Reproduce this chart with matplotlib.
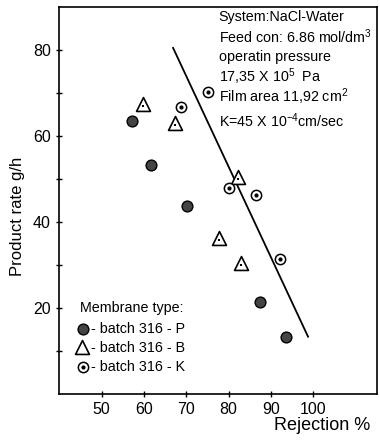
import matplotlib
matplotlib.use("Agg")
import matplotlib.pyplot as plt
import numpy as np

plt.rcParams['font.family'] = ['Liberation Sans', 'DejaVu Sans']
plt.rcParams['mathtext.default'] = 'regular'

# batch 316 - P (filled circles)
p_rej = [57.2, 61.7, 70.2, 87.4, 93.6]
p_rate = [63.5, 53.3, 43.7, 21.4, 13.3]
# batch 316 - B (triangles)
b_rej = [59.8, 67.3, 82.2, 77.8, 83.0]
b_rate = [67.5, 63.1, 50.5, 36.3, 30.5]
# batch 316 - K (dotted circles)
k_rej = [75.1, 68.7, 80.1, 86.5, 92.2]
k_rate = [70.2, 66.7, 47.9, 46.3, 31.4]
# fitted line
line_rej = [66.9, 98.8]
line_rate = [80.5, 13.3]

xticks = [50, 60, 70, 80, 90, 100]
yticks = [10, 20, 30, 40, 50, 60, 70, 80]
ylabels = ['', '20', '', '40', '', '60', '', '80']

fig = plt.figure(figsize=(3.8, 4.42), dpi=100)
ax = fig.add_axes([0.156, 0.109, 0.835, 0.875])

ax.plot(line_rej, line_rate, color='black', lw=1.3, zorder=2)
ax.scatter(p_rej, p_rate, s=60, c='#444444', edgecolors='black', linewidths=1, zorder=3)
ax.scatter(b_rej, b_rate, s=100, marker='^', c='white', edgecolors='black', linewidths=1.2, zorder=3)
ax.scatter(b_rej, [v - 0.6 for v in b_rate], s=3, marker='|', c='black', zorder=4)
ax.scatter(k_rej, k_rate, s=55, c='white', edgecolors='black', linewidths=1.1, zorder=3)
ax.scatter(k_rej, k_rate, s=4, c='black', zorder=4)

ax.set_xlim(40, 115)
ax.set_ylim(0, 90)
ax.set_xticks(xticks)
ax.set_yticks(yticks)
ax.set_yticklabels(ylabels)
ax.tick_params(direction='inout', length=5, width=1, labelsize=11.5)
for s in ax.spines.values():
    s.set_linewidth(1.2)

fig.text(0.047, 0.51, 'Product rate g/h', rotation=90, fontsize=12, va='center', ha='center')
fig.text(0.975, 0.038, 'Rejection %', fontsize=13, ha='right', va='center')

info = ['System:NaCl-Water',
        'Feed con: 6.86 mol/dm$^3$',
        'operatin pressure',
        '17,35 X 10$^5$  Pa',
        'Film area 11,92 cm$^2$',
        'K=45 X 10$^{-4}$cm/sec']
info_y = [87.7, 83.0, 78.4, 73.7, 69.1, 63.5]
for t, yy in zip(info, info_y):
    ax.text(77.7, yy, t, fontsize=10.3, va='center', ha='left')

ax.text(44.9, 20.0, 'Membrane type:', fontsize=10.3, va='center')
ax.text(47.6, 15.1, '- batch 316 - P', fontsize=10.3, va='center')
ax.text(47.6, 10.7, '- batch 316 - B', fontsize=10.3, va='center')
ax.text(47.6, 6.3, '- batch 316 - K', fontsize=10.3, va='center')
ax.scatter([45.6], [15.1], s=60, c='#444444', edgecolors='black', linewidths=1)
ax.scatter([45.4], [11.0], s=100, marker='^', c='white', edgecolors='black', linewidths=1.2)
ax.scatter([45.6], [6.3], s=55, c='white', edgecolors='black', linewidths=1.1)
ax.scatter([45.6], [6.3], s=4, c='black')

fig.savefig('out.png', dpi=100)
